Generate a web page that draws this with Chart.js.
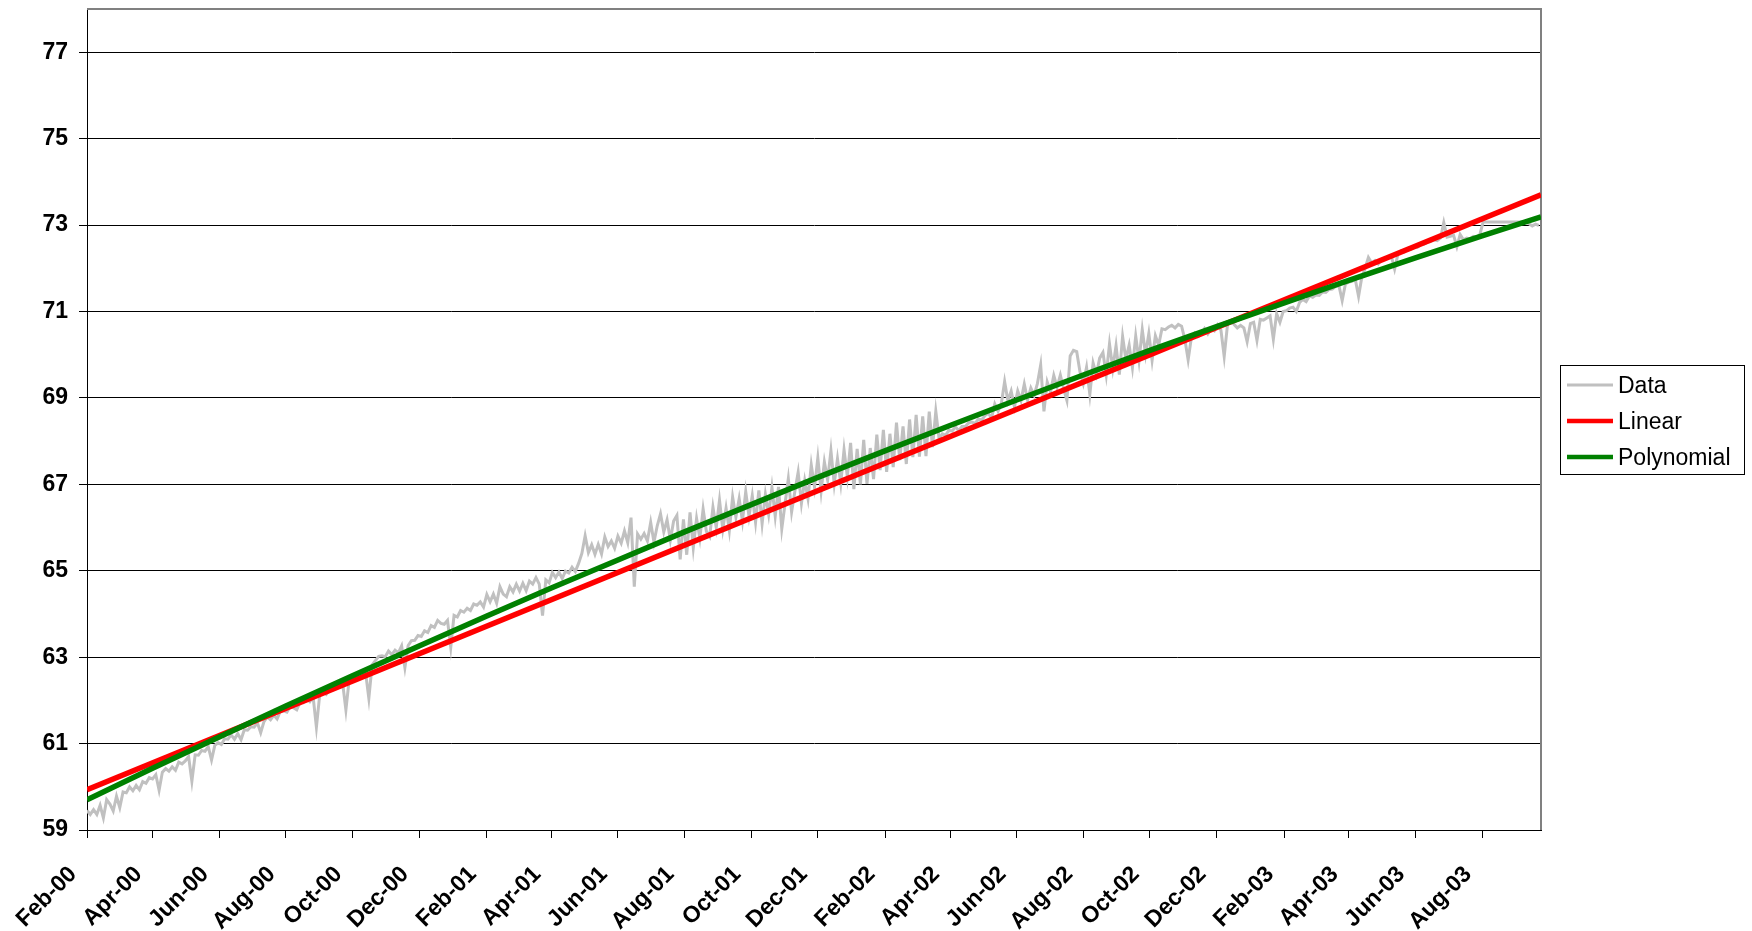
<!DOCTYPE html>
<html>
<head>
<meta charset="utf-8">
<title>Data with linear and polynomial trend</title>
<script src="https://cdn.jsdelivr.net/npm/chart.js@4.4.1/dist/chart.umd.min.js"></script>
<style>
  html, body { margin: 0; padding: 0; background: #ffffff; }
  #wrap { width: 1752px; height: 931px; }
</style>
</head>
<body>
<div id="wrap"><canvas id="chart" width="1752" height="931"></canvas></div>
<script>
// ---- axis definition -------------------------------------------------------
const startDate = '2000-02-01';
const endDate = '2003-09-24';
const sampleStepDays = 3;

const tickDates = [
  '2000-02-01', '2000-04-01', '2000-06-01', '2000-08-01', '2000-10-01', '2000-12-01',
  '2001-02-01', '2001-04-01', '2001-06-01', '2001-08-01', '2001-10-01', '2001-12-01',
  '2002-02-01', '2002-04-01', '2002-06-01', '2002-08-01', '2002-10-01', '2002-12-01',
  '2003-02-01', '2003-04-01', '2003-06-01', '2003-08-01'
];
const tickLabels = [
  'Feb-00', 'Apr-00', 'Jun-00', 'Aug-00', 'Oct-00', 'Dec-00',
  'Feb-01', 'Apr-01', 'Jun-01', 'Aug-01', 'Oct-01', 'Dec-01',
  'Feb-02', 'Apr-02', 'Jun-02', 'Aug-02', 'Oct-02', 'Dec-02',
  'Feb-03', 'Apr-03', 'Jun-03', 'Aug-03'
];
const yTicks = [59, 61, 63, 65, 67, 69, 71, 73, 75, 77];
const yMin = 59;
const yMax = 78;

// ---- series ------------------------------------------------------------------
// Observed values, one every sampleStepDays days from startDate.
const dataValues = [
  59.45, 59.36, 59.47, 59.36, 59.57, 59.28, 59.70, 59.60, 59.44, 59.78,
  59.52, 59.88, 59.86, 60.00, 59.91, 60.03, 59.93, 60.12, 60.08, 60.21,
  60.18, 60.28, 59.92, 60.34, 60.42, 60.36, 60.46, 60.38, 60.57, 60.53,
  60.60, 60.70, 60.13, 60.74, 60.73, 60.84, 60.82, 60.93, 60.62, 60.96,
  61.02, 60.98, 61.11, 61.10, 61.20, 61.10, 61.23, 61.09, 61.32, 61.31,
  61.39, 61.38, 61.48, 61.25, 61.51, 61.62, 61.55, 61.66, 61.57, 61.75,
  61.76, 61.73, 61.86, 61.83, 61.78, 61.96, 61.95, 62.05, 61.97, 62.08,
  61.38, 62.12, 62.21, 62.14, 62.25, 62.24, 62.35, 62.33, 62.40, 61.78,
  62.48, 62.45, 62.56, 62.53, 62.65, 62.65, 62.05, 62.82, 62.92, 63.02,
  63.03, 63.01, 63.14, 63.06, 63.16, 63.10, 63.26, 62.76, 63.27, 63.38,
  63.39, 63.50, 63.48, 63.61, 63.57, 63.73, 63.69, 63.85, 63.78, 63.76,
  63.85, 63.23, 63.97, 63.93, 64.08, 64.04, 64.13, 64.08, 64.23, 64.20,
  64.28, 64.16, 64.45, 64.28, 64.46, 64.25, 64.63, 64.46, 64.40, 64.63,
  64.51, 64.69, 64.53, 64.71, 64.54, 64.76, 64.69, 64.84, 64.69, 63.96,
  64.79, 64.72, 64.96, 64.84, 64.97, 64.82, 64.99, 64.95, 65.08, 64.98,
  65.17, 65.40, 65.81, 65.42, 65.60, 65.38, 65.61, 65.39, 65.78, 65.56,
  65.69, 65.52, 65.80, 65.64, 65.92, 65.65, 66.23, 64.63, 65.85, 65.73,
  65.86, 65.69, 66.12, 65.66, 66.04, 66.32, 65.90, 66.18, 65.71, 66.15,
  66.28, 65.26, 66.19, 65.37, 66.35, 65.53, 66.21, 65.75, 66.43, 65.91,
  65.79, 66.47, 66.00, 66.63, 65.96, 66.45, 65.93, 66.71, 66.24, 66.67,
  66.15, 66.83, 66.26, 66.74, 66.12, 66.86, 66.09, 66.77, 66.30, 66.93,
  66.26, 66.94, 65.97, 66.55, 67.13, 66.36, 66.84, 67.28, 66.56, 67.09,
  66.67, 67.45, 66.93, 67.61, 66.84, 67.52, 67.10, 67.78, 67.01, 67.59,
  67.02, 67.80, 67.18, 67.96, 66.89, 67.82, 67.00, 68.03, 67.01, 67.84,
  67.12, 68.15, 67.33, 68.26, 67.29, 68.17, 67.40, 68.43, 67.56, 68.34,
  67.47, 68.50, 67.63, 68.61, 67.64, 68.57, 67.65, 68.68, 67.86, 68.69,
  68.06, 68.17, 68.14, 68.25, 68.23, 68.33, 68.24, 68.34, 68.34, 68.42,
  68.44, 68.41, 68.51, 68.49, 68.59, 68.65, 68.53, 68.86, 68.69, 68.87,
  69.38, 68.93, 69.16, 68.79, 69.16, 68.94, 69.32, 68.95, 69.23, 69.06,
  69.33, 69.76, 68.69, 69.37, 69.14, 69.52, 69.25, 69.53, 69.21, 68.94,
  69.97, 70.10, 70.07, 69.60, 69.33, 69.71, 69.08, 69.81, 69.54, 69.92,
  70.05, 69.53, 70.25, 69.68, 70.21, 69.54, 70.42, 69.89, 70.22, 69.70,
  70.43, 69.86, 70.58, 70.01, 70.49, 69.87, 70.44, 70.22, 70.60, 70.58,
  70.64, 70.68, 70.62, 70.70, 70.66, 70.35, 69.88, 70.40, 70.50, 70.42,
  70.47, 70.60, 70.48, 70.60, 70.55, 70.69, 70.57, 69.96, 70.69, 70.77,
  70.70, 70.62, 70.68, 70.62, 70.30, 70.72, 70.75, 70.33, 70.82, 70.80,
  70.85, 70.90, 70.36, 70.95, 70.75, 71.00, 71.02, 71.08, 71.10, 71.00,
  71.21, 71.28, 71.23, 71.36, 71.33, 71.38, 71.37, 71.45, 71.44, 71.51,
  71.52, 71.58, 71.60, 71.25, 71.64, 71.68, 71.70, 71.74, 71.35, 71.80,
  72.00, 72.25, 72.12, 72.18, 72.10, 72.20, 72.22, 72.24, 72.28, 71.98,
  72.32, 72.40, 72.38, 72.45, 72.44, 72.50, 72.49, 72.55, 72.56, 72.60,
  72.62, 72.66, 72.64, 72.70, 73.06, 72.72, 72.74, 72.76, 72.50, 72.78,
  72.66, 72.70, 72.68, 72.74, 72.72, 72.78, 73.07, 73.07, 73.07, 73.07,
  73.07, 73.07, 73.07, 73.07, 73.07, 73.07, 73.07, 73.07, 73.07, 73.07,
  73.03, 72.98, 73.02, 72.99
];

// Linear trend: values at the first and last date.
const linearDates = [startDate, endDate];
const linearValues = [59.93, 73.70];

// Polynomial trend: values at each labelled month and at the last date.
const polyDates = tickDates.concat([endDate]);
const polyValues = [
  59.70, 60.43, 61.15, 61.87, 62.57, 63.26, 63.95, 64.60, 65.25, 65.90, 66.53,
  67.16, 67.78, 68.36, 68.95, 69.53, 70.10, 70.65, 71.20, 71.72, 72.24, 72.75,
  73.19
];

// ---- helpers -----------------------------------------------------------------
const DAY_MS = 86400000;
const t0 = Date.parse(startDate + 'T00:00:00Z');
const dayOf = s => Math.round((Date.parse(s + 'T00:00:00Z') - t0) / DAY_MS);
const tickDays = tickDates.map(dayOf);
const lastDay = dayOf(endDate);

const dataPoints = dataValues.map((v, i) => ({ x: i * sampleStepDays, y: v }));
const linearPoints = linearDates.map((d, i) => ({ x: dayOf(d), y: linearValues[i] }));
const polyPoints = polyDates.map((d, i) => ({ x: dayOf(d), y: polyValues[i] }));

const FONT = "'Liberation Sans', Arial, Helvetica, sans-serif";
Chart.defaults.font.family = FONT;
Chart.defaults.color = '#000';

// Grey frame on the top and right of the plot area.
const plotFrame = {
  id: 'plotFrame',
  beforeDatasetsDraw(chart) {
    const { ctx, chartArea: a } = chart;
    ctx.save();
    ctx.strokeStyle = '#808080';
    ctx.lineWidth = 2;
    ctx.beginPath();
    ctx.moveTo(a.left, a.top);
    ctx.lineTo(a.right, a.top);
    ctx.lineTo(a.right, a.bottom);
    ctx.stroke();
    ctx.restore();
  }
};

// Boxed legend to the right of the plot.
const boxedLegend = {
  id: 'boxedLegend',
  afterDraw(chart) {
    const { ctx, chartArea: a } = chart;
    const items = chart.data.datasets;
    ctx.save();
    ctx.font = '23px ' + FONT;
    const textW = Math.max(...items.map(d => ctx.measureText(d.label).width));
    const padL = 7, sample = 46, gap = 5, padR = 14, rowH = 36;
    const w = Math.round(padL + sample + gap + textW + padR);
    const h = rowH * items.length + 1;
    const left = Math.round(a.right + 19);
    const top = Math.round((a.top + a.bottom) / 2 - h / 2);
    ctx.fillStyle = '#fff';
    ctx.fillRect(left, top, w, h);
    ctx.strokeStyle = '#000';
    ctx.lineWidth = 1;
    ctx.strokeRect(left + 0.5, top + 0.5, w, h);
    items.forEach((d, i) => {
      const cy = top + 20 + i * rowH;
      ctx.strokeStyle = d.borderColor;
      ctx.lineWidth = d.legendLineWidth;
      ctx.beginPath();
      ctx.moveTo(left + padL, cy);
      ctx.lineTo(left + padL + sample, cy);
      ctx.stroke();
      ctx.fillStyle = '#000';
      ctx.textAlign = 'left';
      ctx.textBaseline = 'alphabetic';
      ctx.fillText(d.label, left + padL + sample + gap, cy + 8);
    });
    ctx.restore();
  }
};

new Chart(document.getElementById('chart'), {
  type: 'line',
  data: {
    datasets: [
      {
        label: 'Data',
        data: dataPoints,
        borderColor: '#c0c0c0',
        borderWidth: 3,
        legendLineWidth: 3,
        pointRadius: 0,
        tension: 0,
        order: 2
      },
      {
        label: 'Linear',
        data: linearPoints,
        borderColor: '#ff0000',
        borderWidth: 5.5,
        legendLineWidth: 4.5,
        pointRadius: 0,
        tension: 0,
        order: 1
      },
      {
        label: 'Polynomial',
        data: polyPoints,
        borderColor: '#008000',
        borderWidth: 5.5,
        legendLineWidth: 4.5,
        pointRadius: 0,
        tension: 0,
        order: 0
      }
    ]
  },
  options: {
    responsive: false,
    animation: false,
    events: [],
    layout: { padding: { top: 9, right: 211, left: 0, bottom: 0 } },
    plugins: {
      legend: { display: false },
      tooltip: { enabled: false },
      title: { display: false }
    },
    scales: {
      x: {
        type: 'linear',
        min: 0,
        max: lastDay,
        afterBuildTicks: s => { s.ticks = tickDays.map(v => ({ value: v })); },
        afterFit: s => { s.height = 101; s.paddingLeft = 0; s.paddingRight = 0; },
        ticks: {
          autoSkip: false,
          minRotation: 45,
          maxRotation: 45,
          padding: 23,
          labelOffset: -14,
          color: '#000',
          font: { size: 23, weight: 'bold' },
          callback: (v, i) => tickLabels[i]
        },
        grid: {
          drawOnChartArea: false,
          drawTicks: true,
          tickLength: 8,
          color: '#000',
          lineWidth: 1
        },
        border: { display: true, color: '#000', width: 1 }
      },
      y: {
        type: 'linear',
        min: yMin,
        max: yMax,
        afterBuildTicks: s => { s.ticks = yTicks.map(v => ({ value: v })); },
        afterFit: s => { s.width = 87; s.paddingTop = 0; s.paddingBottom = 0; },
        ticks: {
          padding: 11,
          color: '#000',
          font: { size: 23, weight: 'bold' },
          callback: v => String(v)
        },
        grid: {
          color: '#000',
          lineWidth: 1,
          tickLength: 8
        },
        border: { display: true, color: '#000', width: 1 }
      }
    }
  },
  plugins: [plotFrame, boxedLegend]
});
</script>
</body>
</html>
